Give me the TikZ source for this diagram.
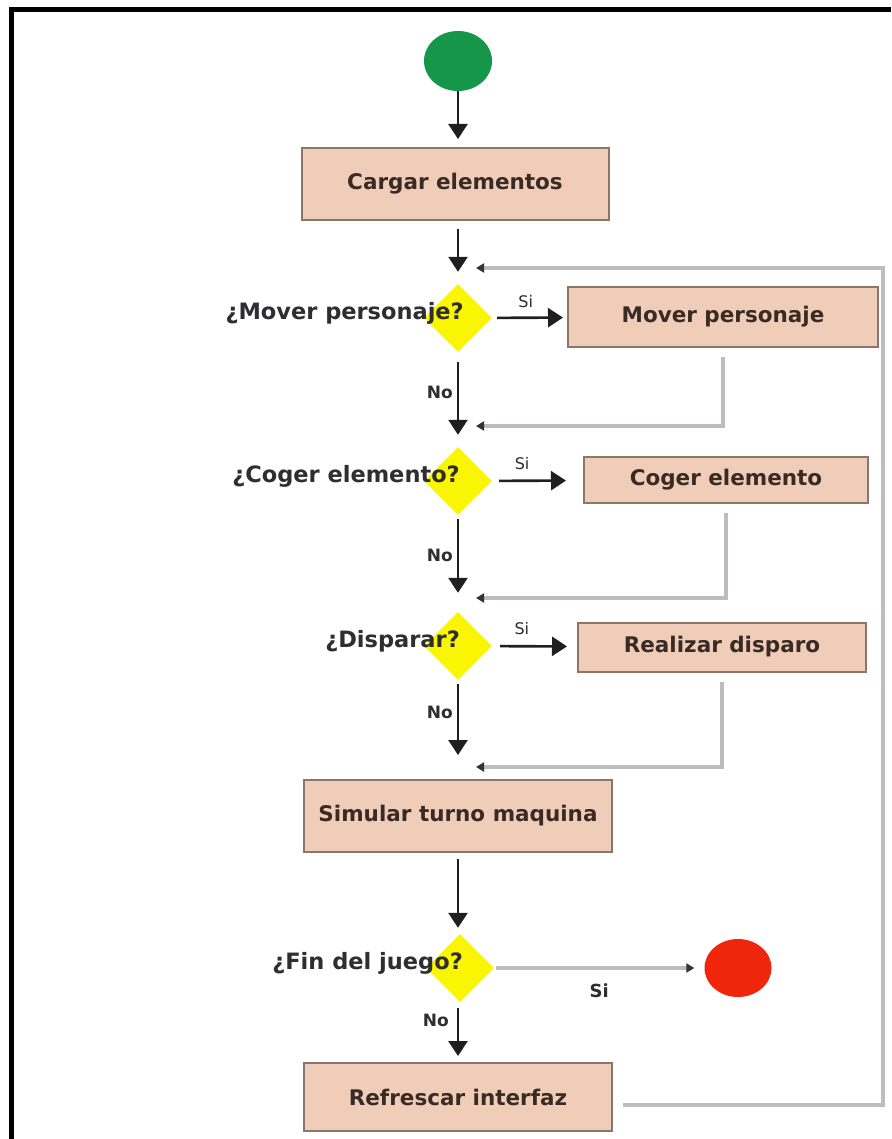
\documentclass[tikz,border=0pt]{standalone}
\usepackage{fontspec}
\setmainfont{DejaVu Sans}
\usetikzlibrary{shapes.geometric,arrows.meta}

\definecolor{boxfill}{RGB}{240,205,184}
\definecolor{boxline}{RGB}{140,118,108}
\definecolor{boxtext}{RGB}{58,42,36}
\definecolor{labeltext}{RGB}{45,45,50}
\definecolor{decfill}{RGB}{250,245,0}
\definecolor{startfill}{RGB}{22,150,72}
\definecolor{endfill}{RGB}{240,38,12}
\definecolor{retline}{RGB}{188,188,194}

\begin{document}
\begin{tikzpicture}[x=1pt,y=-1pt,
  stepbox/.style={draw=boxline, fill=boxfill, line width=2pt, inner sep=0pt,
    text=boxtext, font=\bfseries\fontsize{21.5}{24}\selectfont},
  decision/.style={diamond, fill=decfill, inner sep=0pt,
    minimum width=68pt, minimum height=68pt},
  question/.style={anchor=east, text=labeltext, inner sep=0pt,
    font=\bfseries\fontsize{22.5}{25}\selectfont},
  terminal/.style={ellipse, inner sep=0pt, minimum width=68pt, minimum height=60pt},
  flow/.style={line width=2.6pt, draw=black!88,
    -{Triangle[width=19pt,length=15pt]}},
  back/.style={line width=3.6pt, draw=retline,
    -{Triangle[width=9pt,length=8pt,color=black!80]}},
  tag/.style={text=labeltext, inner sep=0pt}]

% page and frame
\useasboundingbox (0,0) rectangle (891,1139);
\fill[white] (0,0) rectangle (891,1139);
\draw[line width=5pt, black] (891,9.5) -- (11.5,9.5) -- (11.5,1139);

% nodes
\node[terminal, fill=startfill] (start) at (458,61) {};
\node[stepbox, minimum width=307pt, minimum height=72pt] (load) at (455,184) {Cargar elementos};

\node[decision] (d1) at (458,318) {};
\node[question] (q1) at (464,313) {¿Mover personaje?};
\node[stepbox, minimum width=310pt, minimum height=59pt] (move) at (723,317) {Mover personaje};

\node[decision] (d2) at (458,481) {};
\node[question] (q2) at (460,476) {¿Coger elemento?};
\node[stepbox, minimum width=284pt, minimum height=46pt] (take) at (726,480) {Coger elemento};

\node[decision] (d3) at (458,646) {};
\node[question] (q3) at (460,641) {¿Disparar?};
\node[stepbox, minimum width=288pt, minimum height=49pt] (shoot) at (722,647) {Realizar disparo};

\node[stepbox, minimum width=308pt, minimum height=72pt] (sim) at (458,816) {Simular turno maquina};

\node[decision] (d4) at (460,968) {};
\node[question] (q4) at (463,963) {¿Fin del juego?};
\node[terminal, fill=endfill, minimum width=67pt, minimum height=58pt] (stop) at (738,968) {};

\node[stepbox, minimum width=308pt, minimum height=68pt] (refresh) at (458,1097) {Refrescar interfaz};

% merge points of the return lines
\coordinate (m1) at (476,268);
\coordinate (m2) at (476,426);
\coordinate (m3) at (476,598);
\coordinate (m4) at (476,767);
\coordinate (loopc) at (883,268);

% main flow
\draw[flow, shorten >=8pt] (start) -- (start |- load.north);
\draw[flow, shorten <=8pt, shorten >=12pt] (d1 |- load.south) -- (d1);

\draw[flow, shorten <=5pt, shorten >=4pt] (d1) -- (move)
  node[tag, pos=0.45, above=9pt, font=\fontsize{16}{18}\selectfont] {Si};
\draw[flow, shorten <=10pt, shorten >=12pt] (d1) -- (d2)
  node[tag, pos=0.42, left=4pt, font=\bfseries\fontsize{17}{20}\selectfont] {No};

\draw[flow, shorten <=7pt, shorten >=17pt] (d2) -- (take)
  node[tag, pos=0.33, above=10pt, font=\fontsize{16}{18}\selectfont] {Si};
\draw[flow, shorten <=4pt, shorten >=19pt] (d2) -- (d3)
  node[tag, pos=0.42, left=4pt, font=\bfseries\fontsize{17}{20}\selectfont] {No};

\draw[flow, shorten <=8pt, shorten >=10pt] (d3) -- (shoot)
  node[tag, pos=0.35, above=10pt, font=\fontsize{16}{18}\selectfont] {Si};
\draw[flow, shorten <=4pt, shorten >=24pt] (d3) -- (sim)
  node[tag, pos=0.33, left=4pt, font=\bfseries\fontsize{17}{20}\selectfont] {No};

\draw[flow, shorten <=6pt, shorten >=6pt] (sim) -- (sim |- d4.north);
\draw[flow, shorten <=6pt, shorten >=6pt] (d4.south -| refresh) -- (refresh)
  node[tag, pos=0.3, left=8pt, font=\bfseries\fontsize{17}{20}\selectfont] {No};

\draw[back, shorten <=2pt, shorten >=10pt] (d4) -- (stop)
  node[tag, pos=0.5, below=14pt, font=\bfseries\fontsize{18}{21}\selectfont] {Si};

% return lines
\draw[back, shorten <=9pt] (move.south) |- (m2);
\draw[back, shorten <=9pt] (take.south) |- (m3);
\draw[back, shorten <=9pt] (shoot.south) |- (m4);
\draw[back, shorten <=10pt] ([yshift=-8pt]refresh.east) -| (loopc) -- (m1);

\end{tikzpicture}
\end{document}
